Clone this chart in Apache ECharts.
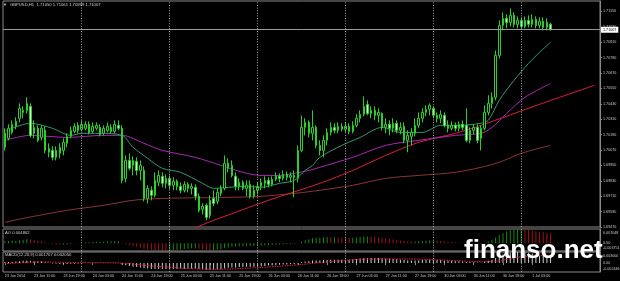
<!DOCTYPE html>
<html><head><meta charset="utf-8">
<script src="https://cdn.jsdelivr.net/npm/echarts@6/dist/echarts.min.js"></script>
<style>html,body{margin:0;padding:0;background:#000;}#c{width:620px;height:281px;}</style>
</head><body><div id="c"></div>
<script>
const symbolTitle = 'GBPUSD,H1  1.71050 1.71061 1.70999 1.71007';
const aoTitle = 'AO 0.004862';
const macdTitle = 'MACD(12,26,9) 0.001707 0.002050';
const days = [['23 Jun',3,23],['24 Jun',0,23],['25 Jun',0,23],['26 Jun',0,23],['27 Jun',0,23],['30 Jun',0,23],['1 Jul',0,8]];
const sepDays = ['24 Jun 00:00','25 Jun 00:00','26 Jun 00:00','27 Jun 00:00','30 Jun 00:00','1 Jul 00:00'];
const lastPrice = 1.71007;
const priceTicks = {min:1.69470, max:1.71231, step:0.0012};
const aoRange = {min:-0.003751, max:0.007048};
const macdRange = {min:-0.002446, max:0.003000};
// [open, close, low, high]
const ohlc = [
[1.70200,1.70091,1.70067,1.70239],[1.70161,1.70239,1.70145,1.70270],[1.70207,1.70270,1.70192,1.70301],[1.70254,1.70293,1.70231,1.70324],[1.70317,1.70394,1.70285,1.70433],
[1.70363,1.70379,1.70317,1.70410],[1.70379,1.70433,1.70355,1.70480],[1.70410,1.70184,1.70168,1.70433],[1.70200,1.70246,1.70161,1.70301],[1.70239,1.70145,1.70130,1.70262],
[1.70168,1.70239,1.70145,1.70262],[1.70223,1.70067,1.70044,1.70254],[1.70052,1.70083,1.70013,1.70122],[1.70067,1.70013,1.69989,1.70098],[1.70013,1.70067,1.69989,1.70098],
[1.70044,1.70091,1.70005,1.70122],[1.70067,1.70130,1.70028,1.70161],[1.70122,1.70176,1.70091,1.70200],[1.70176,1.70223,1.70161,1.70254],[1.70215,1.70254,1.70200,1.70278],
[1.70262,1.70223,1.70200,1.70285],[1.70231,1.70270,1.70215,1.70301],[1.70239,1.70270,1.70223,1.70293],[1.70270,1.70207,1.70192,1.70293],[1.70215,1.70254,1.70200,1.70285],
[1.70239,1.70262,1.70223,1.70285],[1.70246,1.70192,1.70176,1.70270],[1.70200,1.70239,1.70184,1.70262],[1.70223,1.70254,1.70207,1.70285],[1.70246,1.70215,1.70200,1.70270],
[1.70215,1.70270,1.70200,1.70301],[1.70262,1.70239,1.70223,1.70301],[1.70239,1.69833,1.69810,1.70262],[1.69849,1.69989,1.69818,1.70028],[1.69989,1.69927,1.69911,1.70044],
[1.69950,1.69989,1.69872,1.70020],[1.69981,1.69911,1.69872,1.70013],[1.69911,1.69950,1.69833,1.69989],[1.69911,1.69693,1.69670,1.69942],[1.69693,1.69771,1.69654,1.69795],
[1.69756,1.69717,1.69678,1.69787],[1.69717,1.69833,1.69701,1.69896],[1.69818,1.69872,1.69787,1.69911],[1.69865,1.69810,1.69779,1.69896],[1.69810,1.69849,1.69771,1.69880],
[1.69849,1.69795,1.69763,1.69872],[1.69795,1.69826,1.69756,1.69857],[1.69826,1.69787,1.69756,1.69841],[1.69787,1.69756,1.69732,1.69818],[1.69756,1.69802,1.69740,1.69826],
[1.69802,1.69771,1.69740,1.69818],[1.69771,1.69787,1.69724,1.69810],[1.69779,1.69709,1.69678,1.69802],[1.69709,1.69600,1.69584,1.69732],[1.69608,1.69631,1.69569,1.69654],
[1.69639,1.69545,1.69522,1.69654],[1.69561,1.69678,1.69537,1.69717],[1.69693,1.69654,1.69631,1.69756],[1.69670,1.69740,1.69647,1.69771],[1.69732,1.69771,1.69709,1.69795],
[1.69771,1.69966,1.69756,1.70028],[1.69966,1.69927,1.69896,1.70005],[1.69950,1.69872,1.69857,1.69989],[1.69865,1.69787,1.69756,1.69896],[1.69787,1.69818,1.69756,1.69849],
[1.69818,1.69771,1.69756,1.69833],[1.69771,1.69795,1.69709,1.69833],[1.69802,1.69709,1.69693,1.69833],[1.69709,1.69756,1.69693,1.69795],[1.69756,1.69787,1.69724,1.69818],
[1.69787,1.69818,1.69756,1.69849],[1.69810,1.69833,1.69771,1.69865],[1.69833,1.69802,1.69779,1.69857],[1.69802,1.69841,1.69787,1.69865],[1.69841,1.69865,1.69826,1.69896],
[1.69865,1.69849,1.69818,1.69888],[1.69849,1.69880,1.69833,1.69911],[1.69880,1.69857,1.69833,1.69903],[1.69857,1.69872,1.69818,1.69896],[1.69872,1.69857,1.69701,1.69911],
[1.69849,1.70067,1.69818,1.70106],[1.70067,1.70246,1.70052,1.70340],[1.70246,1.70285,1.70184,1.70317],[1.70285,1.70200,1.70168,1.70301],[1.70200,1.70246,1.70145,1.70379],
[1.70246,1.70106,1.70083,1.70262],[1.70106,1.70067,1.70028,1.70145],[1.70067,1.70145,1.70013,1.70184],[1.70145,1.70207,1.70106,1.70239],[1.70207,1.70246,1.70184,1.70285],
[1.70246,1.70223,1.70200,1.70278],[1.70223,1.70254,1.70200,1.70285],[1.70254,1.70231,1.70215,1.70278],[1.70231,1.70254,1.70207,1.70285],[1.70254,1.70215,1.70192,1.70278],
[1.70215,1.70262,1.70200,1.70293],[1.70262,1.70317,1.70246,1.70348],[1.70317,1.70348,1.70285,1.70379],[1.70348,1.70410,1.70332,1.70488],[1.70425,1.70355,1.70340,1.70457],
[1.70355,1.70379,1.70317,1.70410],[1.70379,1.70340,1.70301,1.70410],[1.70340,1.70363,1.70285,1.70394],[1.70355,1.70246,1.70223,1.70363],[1.70246,1.70270,1.70200,1.70317],
[1.70270,1.70239,1.70184,1.70301],[1.70239,1.70278,1.70207,1.70317],[1.70278,1.70223,1.70200,1.70301],[1.70223,1.70246,1.70192,1.70285],[1.70254,1.70145,1.70122,1.70285],
[1.70145,1.70184,1.70052,1.70223],[1.70176,1.70207,1.70106,1.70239],[1.70200,1.70262,1.70176,1.70317],[1.70262,1.70317,1.70239,1.70363],[1.70317,1.70363,1.70285,1.70394],
[1.70363,1.70387,1.70332,1.70418],[1.70387,1.70418,1.70340,1.70433],[1.70394,1.70340,1.70317,1.70410],[1.70340,1.70317,1.70285,1.70363],[1.70317,1.70348,1.70278,1.70379],
[1.70340,1.70262,1.70246,1.70363],[1.70262,1.70239,1.70207,1.70301],[1.70239,1.70262,1.70223,1.70293],[1.70262,1.70239,1.70215,1.70285],[1.70239,1.70270,1.70215,1.70293],
[1.70270,1.70246,1.70223,1.70301],[1.70262,1.70145,1.70130,1.70394],[1.70145,1.70223,1.70122,1.70246],[1.70223,1.70246,1.70192,1.70270],[1.70246,1.70145,1.70122,1.70270],
[1.70161,1.70239,1.70067,1.70262],[1.70239,1.70363,1.70223,1.70418],[1.70363,1.70433,1.70340,1.70496],[1.70433,1.70480,1.70394,1.70519],[1.70480,1.70807,1.70457,1.70846],
[1.70807,1.71041,1.70784,1.71080],[1.71041,1.71096,1.71002,1.71142],[1.71096,1.71064,1.71018,1.71127],[1.71064,1.71119,1.71033,1.71173],[1.71119,1.71049,1.71025,1.71142],
[1.71049,1.71080,1.71018,1.71111],[1.71080,1.71033,1.71010,1.71103],[1.71033,1.71080,1.71018,1.71111],[1.71080,1.71049,1.71025,1.71119],[1.71049,1.71088,1.71025,1.71127],
[1.71088,1.71041,1.71018,1.71111],[1.71041,1.71072,1.71018,1.71103],[1.71072,1.71025,1.71002,1.71103],[1.71025,1.71064,1.71002,1.71096],[1.71050,1.71007,1.70999,1.71061]
];
// moving averages read at selected bars: [bar index, price]
const maFast = [[0,1.70215],[7,1.70278],[13,1.70239],[18,1.70184],[21,1.70200],[26,1.70200],[32,1.70184],[35,1.70091],[39,1.70005],[43,1.69927],[48,1.69896],[54,1.69810],[57,1.69771],[61,1.69779],[66,1.69787],[70,1.69779],[75,1.69810],[79,1.69833],[82,1.69911],[84,1.69950],[86,1.70013],[92,1.70106],[97,1.70168],[103,1.70246],[108,1.70207],[114,1.70207],[119,1.70262],[124,1.70262],[130,1.70278],[132,1.70301],[135,1.70457],[139,1.70612],[143,1.70745],[146,1.70831],[149,1.70909]];
const maMid = [[0,1.70145],[7,1.70184],[17,1.70168],[27,1.70184],[32,1.70184],[38,1.70122],[43,1.70067],[52,1.70013],[59,1.69950],[65,1.69896],[70,1.69872],[75,1.69872],[79,1.69888],[83,1.69911],[86,1.69935],[95,1.70013],[104,1.70106],[113,1.70145],[123,1.70184],[130,1.70200],[133,1.70246],[137,1.70355],[142,1.70480],[149,1.70589]];
const maSlow = [[50,1.69440],[57,1.69522],[61,1.69563],[72,1.69678],[86,1.69810],[95,1.69911],[104,1.70028],[113,1.70130],[123,1.70200],[130,1.70262],[146,1.70426],[161,1.70574]];
const maLong = [[0,1.69506],[5,1.69537],[17,1.69600],[27,1.69639],[35,1.69678],[43,1.69693],[61,1.69701],[70,1.69709],[79,1.69732],[86,1.69756],[95,1.69795],[104,1.69849],[113,1.69872],[123,1.69896],[130,1.69935],[135,1.69974],[141,1.70044],[149,1.70106]];
const aoVals = [0.0010,0.0012,0.0013,0.0013,0.0015,0.0018,0.0020,0.0018,0.0016,0.0013,
0.0010,0.0006,0.0002,-0.0002,-0.0005,-0.0006,-0.0006,-0.0005,-0.0003,-0.0001,0.0001,
0.0003,0.0005,0.0006,0.0007,0.0008,0.0008,0.0009,0.0009,0.0010,0.0010,0.0010,
0.0003,-0.0003,-0.0008,-0.0013,-0.0017,-0.0020,-0.0026,-0.0030,-0.0033,
-0.0035,-0.0036,-0.0037,-0.003751,-0.0036,-0.0034,-0.0032,-0.0030,-0.0028,-0.0026,-0.0024,-0.0024,
-0.0026,-0.0029,-0.0032,-0.0033,-0.0032,-0.0030,-0.0029,
-0.0024,-0.0020,-0.0017,-0.0015,-0.0014,-0.0014,-0.0013,-0.0013,-0.0013,-0.0012,-0.0011,-0.0010,-0.0009,-0.0008,-0.0006,-0.0005,-0.0004,-0.0003,-0.0003,-0.0004,
0.0000,0.0008,0.0015,0.0020,0.0025,0.0028,0.0029,0.0030,0.0031,0.0030,0.0030,0.0029,0.0028,0.0027,0.0026,0.0027,
0.0029,0.0031,0.0033,0.0034,0.0033,0.0031,0.0029,0.0026,0.0024,0.0022,0.0019,0.0017,0.0014,0.0012,0.0010,0.0009,0.0009,0.0010,0.0011,0.0013,0.0014,
0.0014,0.0013,0.0011,0.0009,0.0007,0.0006,0.0004,0.0003,0.0002,0.0001,0.0000,-0.0001,-0.0002,-0.0003,
0.0002,0.0009,0.0017,0.0029,0.0041,0.0050,0.0058,0.0064,0.0068,0.0070,0.007048,
0.0069,0.0066,0.0063,0.0060,0.0057,0.0054,0.0051,0.004862];
const macdVals = [0.0003,0.0003,0.0003,0.0004,0.0005,0.0006,0.0007,0.0006,0.0005,0.0004,0.0004,0.0002,0.0001,-0.0001,-0.0002,-0.0003,-0.0003,-0.0003,-0.0002,-0.0002,-0.0001,-0.0001,0.0001,0.0001,0.0001,0.0001,0.0001,0.0001,0.0001,0.0001,0.0001,0.0001,
-0.0004,-0.0006,-0.0008,-0.0010,-0.0011,-0.0012,-0.0014,-0.0015,-0.0016,-0.0016,-0.0016,-0.0016,-0.0016,-0.0016,-0.0016,-0.0016,-0.0016,-0.0016,-0.0015,-0.0015,-0.0015,
-0.0016,-0.0017,-0.0018,-0.0018,-0.0018,-0.0018,-0.0017,-0.0015,-0.0013,-0.0012,-0.0012,-0.0011,-0.0011,-0.0010,-0.0010,-0.0010,-0.0009,-0.0009,-0.0008,-0.0007,-0.0006,-0.0006,-0.0005,-0.0004,-0.0004,-0.0003,-0.0003,
-0.0001,0.0002,0.0004,0.0005,0.0007,0.0007,0.0007,0.0008,0.0008,0.0009,0.0009,0.0009,0.0009,0.0009,0.0009,0.0010,
0.0011,0.0012,0.0013,0.0014,0.0014,0.0014,0.0014,0.0013,0.0012,0.0012,0.0011,0.0010,0.0009,0.0008,0.0007,0.0007,0.0007,0.0007,0.0008,0.0008,0.0009,
0.0009,0.0008,0.0008,0.0007,0.0006,0.0006,0.0005,0.0005,0.0004,0.0003,0.0003,0.0002,0.0001,0.0001,
0.0003,0.0006,0.0009,0.0014,0.0019,0.0023,0.0026,0.0028,0.0029,0.0030,0.0030,0.0029,0.0028,0.0026,0.0024,0.0022,0.0020,0.00185,0.001707];
const macdSignal = [[0,-0.0002],[10,0.0003],[20,0.0001],[31,0.0000],[40,-0.0008],[50,-0.0015],[58,-0.0017],[70,-0.0012],[80,-0.0005],[90,0.0005],[100,0.0011],[110,0.0011],[120,0.0008],[130,0.0004],[135,0.0006],[140,0.0016],[145,0.0020],[149,0.002050]];

const cats = [];
days.forEach(([d, h0, h1]) => { for (let h = h0; h <= h1; h++) cats.push(d + ' ' + String(h).padStart(2, '0') + ':00'); });
for (let k = 1; k <= 13; k++) cats.push('pad' + k);

const TXT = '#c8c8c8', FRAME = '#8a8a8a', FONT = '"Liberation Sans", Arial, sans-serif';
const isLabelBar = (i, v) => /\s(03|11|19):00$/.test(v);
const vlines = sepDays.map(c => ({xAxis: c}));
const vlineMark = {symbol: ['none','none'], silent: true, animation: false,
  label: {show: false}, lineStyle: {color: '#a8a8a8', type: [1, 1.6], width: 1}, data: vlines};

const grids = [
  {left: 3, right: 20, top: 1, height: 226},
  {left: 3, right: 20, top: 229, height: 22},
  {left: 3, right: 20, top: 252, height: 20}
].map(g => Object.assign(g, {show: true, borderColor: FRAME, borderWidth: 1, backgroundColor: '#000', containLabel: false, outerBoundsMode: 'none'}));

const xAxes = [0, 1, 2].map(gi => ({
  type: 'category', gridIndex: gi, data: cats, boundaryGap: true,
  axisLine: {show: false},
  axisTick: gi === 2 ? {show: true, interval: isLabelBar, alignWithLabel: true, length: 2, lineStyle: {color: FRAME}} : {show: false},
  axisLabel: gi === 2 ? {show: true, interval: isLabelBar, align: 'left', color: TXT, fontSize: 3.7, fontFamily: FONT, margin: 2,
    formatter: (v, i) => i === 0 ? '23 Jun 2014' : v} : {show: false},
  splitLine: {show: false}
}));

const sideLabel = (vals, fmt) => ({
  show: true, color: TXT, fontSize: 3.7, fontFamily: FONT, margin: 3, customValues: vals,
  formatter: fmt,
  rich: {t: {padding: [7, 0, 0, 0], fontSize: 3.7, color: TXT, fontFamily: FONT},
         b: {padding: [0, 0, 7, 0], fontSize: 3.7, color: TXT, fontFamily: FONT},
         m: {fontSize: 3.7, color: TXT, fontFamily: FONT}}
});

const yAxes = [
  {type: 'value', gridIndex: 0, position: 'right', min: priceTicks.min, max: priceTicks.max, interval: priceTicks.step, scale: true,
   axisLine: {show: true, lineStyle: {color: FRAME}}, axisTick: {show: true, length: 2, lineStyle: {color: FRAME}},
   splitLine: {show: false},
   axisLabel: {show: true, color: TXT, fontSize: 3.7, fontFamily: FONT, margin: 3, showMaxLabel: false, formatter: v => v.toFixed(5)}},
  {type: 'value', gridIndex: 1, position: 'right', min: aoRange.min, max: aoRange.max,
   axisLine: {show: true, lineStyle: {color: FRAME}}, axisTick: {show: false}, splitLine: {show: false},
   axisLabel: sideLabel([aoRange.min, 0, aoRange.max], v => v >= aoRange.max ? '{t|' + v.toFixed(6) + '}' : v <= aoRange.min ? '{b|' + v.toFixed(6) + '}' : '{m|0.00}')},
  {type: 'value', gridIndex: 2, position: 'right', min: macdRange.min, max: macdRange.max,
   axisLine: {show: true, lineStyle: {color: FRAME}}, axisTick: {show: false}, splitLine: {show: false},
   axisLabel: sideLabel([macdRange.min, 0, macdRange.max], v => v >= macdRange.max ? '{t|' + v.toFixed(6) + '}' : v <= macdRange.min ? '{b|' + v.toFixed(6) + '}' : '{m|0.00}')}
];

const maLine = (data, color) => ({type: 'line', xAxisIndex: 0, yAxisIndex: 0, data, showSymbol: false, symbol: 'none', smooth: 0.3,
  lineStyle: {color, width: 1}, silent: true, clip: true, z: 3});

const option = {
  animation: false, backgroundColor: '#000',
  grid: grids, xAxis: xAxes, yAxis: yAxes,
  series: [
    maLine(maLong, '#8a3535'),
    maLine(maSlow, '#d8203a'),
    maLine(maMid, '#a62ab0'),
    maLine(maFast, '#2f9a72'),
    {type: 'candlestick', xAxisIndex: 0, yAxisIndex: 0, data: ohlc, barWidth: 2, z: 4,
     itemStyle: {color: '#000', color0: '#e0ffe0', borderColor: '#28d028', borderColor0: '#28d028', borderWidth: 1},
     markLine: Object.assign({}, vlineMark, {precision: 5, data: vlines.concat([{
       yAxis: lastPrice, lineStyle: {type: 'solid', color: '#9a9a9a', width: 1},
       label: {show: true, position: 'end', distance: 1, formatter: lastPrice.toFixed(5), color: '#000', backgroundColor: '#fff',
         fontSize: 3.7, fontFamily: FONT, padding: [1, 2]}}])})},
    {type: 'bar', xAxisIndex: 1, yAxisIndex: 1, data: aoVals, barWidth: 1,
     itemStyle: {color: p => (p.dataIndex > 0 && aoVals[p.dataIndex] < aoVals[p.dataIndex - 1]) ? '#a01418' : '#188818'},
     markLine: vlineMark},
    {type: 'bar', xAxisIndex: 2, yAxisIndex: 2, data: macdVals, barWidth: 1, itemStyle: {color: '#d0d0d0'},
     markLine: vlineMark},
    {type: 'line', xAxisIndex: 2, yAxisIndex: 2, data: macdSignal, showSymbol: false, symbol: 'none', smooth: 0.3,
     lineStyle: {color: '#e0203a', width: 1, type: [1.5, 1]}, z: 5}
  ],
  graphic: [
    {type: 'text', x: 3, y: 3, style: {text: '▼', fill: '#d0d0d0', font: '4px ' + FONT}},
    {type: 'text', x: 10, y: 3, style: {text: symbolTitle, fill: '#d0d0d0', font: '4.2px ' + FONT}},
    {type: 'text', x: 5, y: 231, style: {text: aoTitle, fill: '#d0d0d0', font: '4.2px ' + FONT}},
    {type: 'text', x: 5, y: 253, style: {text: macdTitle, fill: '#d0d0d0', font: '4.2px ' + FONT}},
    {type: 'text', x: 464, y: 238, z: 100, style: {text: 'finanso.net', fill: '#ffffff', font: 'bold 26px ' + FONT}}
  ]
};
const chart = echarts.init(document.getElementById('c'), null, {renderer: 'canvas'});
chart.setOption(option);
</script></body></html>
